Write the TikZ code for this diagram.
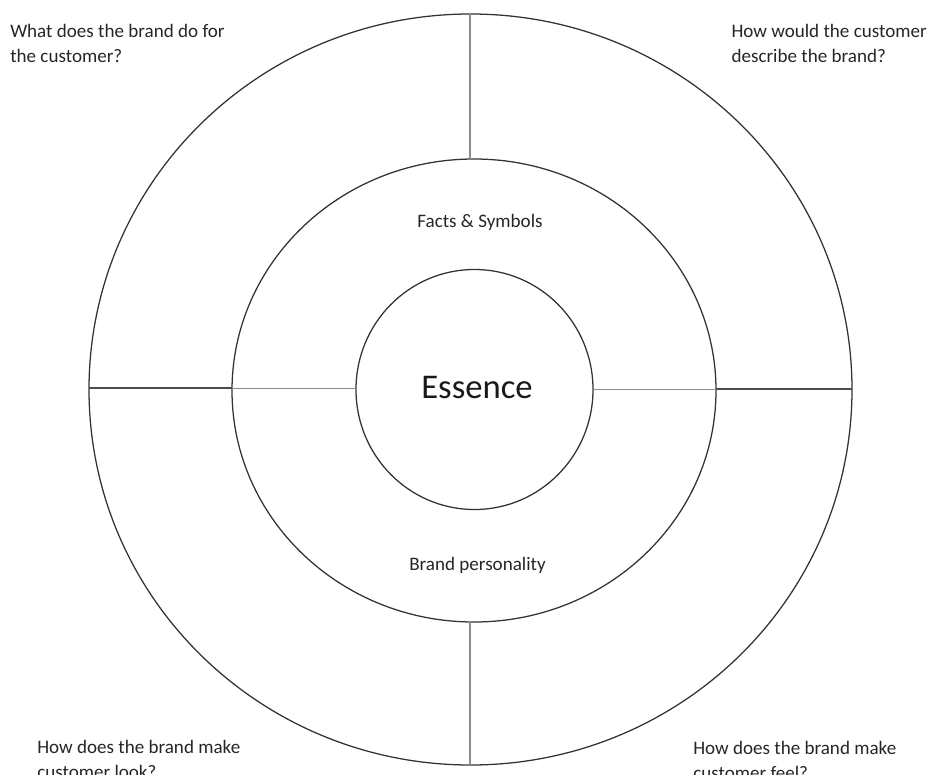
\documentclass[tikz,border=0pt]{standalone}
\usepackage{fontspec}
\setmainfont{Carlito}
\begin{document}
\begin{tikzpicture}[x=0.75pt,y=-0.75pt,
  ring/.style={draw=black!80, line width=0.95pt},
  spoke/.style={draw=black!45, line width=0.9pt},
  spokedark/.style={draw=black!70, line width=1.3pt},
  question/.style={inner sep=0pt, align=left, text=black!85,
    font=\fontsize{14.3}{18.75}\selectfont},
  layer/.style={inner sep=0pt, text=black!85, font=\fontsize{14.3}{17}\selectfont},
  core/.style={inner sep=0pt, text=black!90, font=\fontsize{26}{30}\selectfont}]
\useasboundingbox (0,0) rectangle (929,775);

% three rings
\draw[ring] (470.5,389.5) ellipse [x radius=381.5, y radius=375.5];
\draw[ring] (474,390.5) ellipse [x radius=242, y radius=231.5];
\draw[ring] (474.5,389.5) ellipse [x radius=118.5, y radius=120];

% points where the dividers meet the rings
\coordinate (outerN) at (470,14);
\coordinate (midN)   at (470,159);
\coordinate (midS)   at (470,622);
\coordinate (outerS) at (470,765);
\coordinate (outerW) at (89,388.3);
\coordinate (midW)   at (232,388.3);
\coordinate (innerW) at (356,388.3);
\coordinate (innerE) at (593,389.3);
\coordinate (midE)   at (716,389.3);
\coordinate (outerE) at (852,389.3);

% dividers
\draw[spoke] (outerN) -- (midN);
\draw[spoke] (midS) -- (outerS);
\draw[spokedark] (outerW) -- (midW);
\draw[spoke] (midW) -- (innerW);
\draw[spoke] (innerE) -- (midE);
\draw[spokedark] (midE) -- (outerE);

% labels
\node[core, anchor=base] (essence) at (477,398.3) {Essence};
\node[layer, anchor=base] (facts) at (480,227) {Facts \& Symbols};
\node[layer, anchor=base] (personality) at (477.5,570) {Brand personality};

% corner questions (anchored at the baseline of their last line)
\node[question, anchor=base west] (qdo) at (10,62.7)
  {What does the brand do for\\the customer?};
\node[question, anchor=base east] (qdescribe) at (927,62.7)
  {How would the customer\\describe the brand?};
\node[question, anchor=base west] (qlook) at (37,778)
  {How does the brand make\\customer look?};
\node[question, anchor=base west] (qfeel) at (693,779)
  {How does the brand make\\customer feel?};
\end{tikzpicture}
\end{document}
